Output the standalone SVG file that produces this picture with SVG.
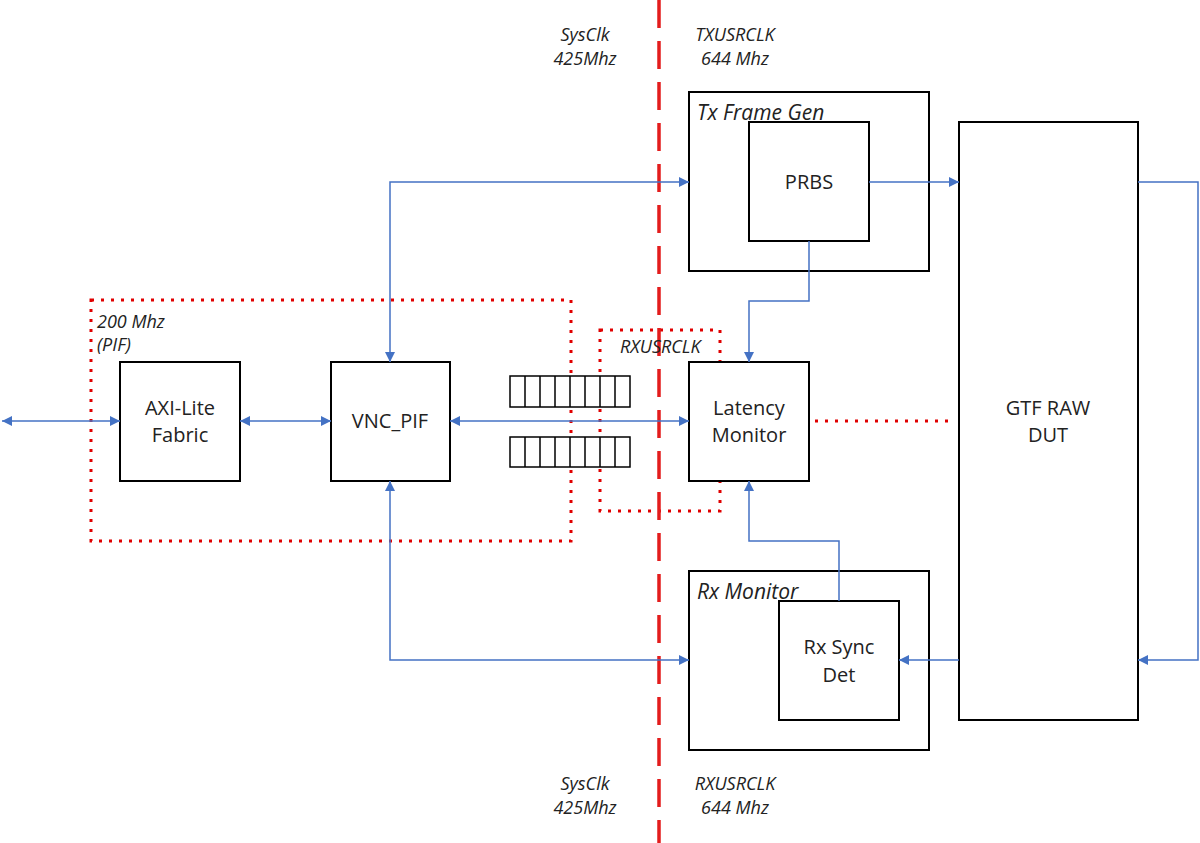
<svg xmlns="http://www.w3.org/2000/svg" width="1200" height="843" viewBox="0 0 1200 843">
<defs>
<marker id="ah" viewBox="0 0 10 10" refX="10" refY="5" markerWidth="10" markerHeight="10" markerUnits="userSpaceOnUse" orient="auto-start-reverse">
<path d="M0,0 L10,5 L0,10 z" fill="#4472C4"/>
</marker>
<style>
.box{fill:#fff;stroke:#000;stroke-width:2}
.cell{fill:#fff;stroke:#000;stroke-width:1.5}
.t{font-family:"Open Sans","Noto Sans",sans-serif;font-size:20px;fill:#222;text-anchor:middle}
.it{font-family:"Open Sans","Noto Sans",sans-serif;font-size:18px;font-style:italic;fill:#222}
.ttl{font-family:"Open Sans","Noto Sans",sans-serif;font-size:21px;font-style:italic;fill:#222}
.c{fill:none;stroke:#4472C4;stroke-width:1.5}
.dot{fill:none;stroke:#E00000;stroke-width:3;stroke-dasharray:3 7}
</style>
</defs>
<rect width="1200" height="843" fill="#fff"/>

<g id="clock-domains">
<rect class="dot" x="91" y="300" width="480" height="241"/>
<rect class="dot" x="600" y="330" width="120" height="181"/>
<line class="dot" x1="815" y1="421" x2="952" y2="421"/>
<line x1="659" y1="0" x2="659" y2="843" stroke="#E31C1C" stroke-width="3.5" stroke-dasharray="28 13"/>
<text class="it" text-anchor="middle" x="585" y="41">SysClk</text>
<text class="it" text-anchor="middle" x="585" y="65">425Mhz</text>
<text class="it" text-anchor="middle" x="735" y="41">TXUSRCLK</text>
<text class="it" text-anchor="middle" x="735" y="65">644 Mhz</text>
<text class="it" text-anchor="middle" x="585" y="790">SysClk</text>
<text class="it" text-anchor="middle" x="585" y="814">425Mhz</text>
<text class="it" text-anchor="middle" x="735" y="790">RXUSRCLK</text>
<text class="it" text-anchor="middle" x="735" y="814">644 Mhz</text>
<text class="it" x="97" y="328">200 Mhz</text>
<text class="it" x="97" y="351">(PIF)</text>
<text class="it" x="620" y="353">RXUSRCLK</text>
</g>

<g id="axi-lite">
<rect class="box" x="120" y="362" width="120" height="119"/>
<text class="t" x="180" y="415">AXI-Lite</text>
<text class="t" x="180" y="442">Fabric</text>
</g>

<g id="vnc-pif">
<rect class="box" x="331" y="362" width="119" height="119"/>
<text class="t" x="390" y="428">VNC_PIF</text>
</g>

<g id="fifo-tx">
<rect class="cell" x="510" y="376" width="120" height="31"/>
<path d="M525,376v31M540,376v31M555,376v31M570,376v31M585,376v31M600,376v31M615,376v31" stroke="#000" stroke-width="1.5"/>
</g>

<g id="fifo-rx">
<rect class="cell" x="510" y="437" width="120" height="30"/>
<path d="M525,437v30M540,437v30M555,437v30M570,437v30M585,437v30M600,437v30M615,437v30" stroke="#000" stroke-width="1.5"/>
</g>

<g id="tx-frame-gen">
<rect class="box" x="689" y="92" width="240" height="179"/>
<text class="ttl" x="697" y="120">Tx Frame Gen</text>
</g>

<g id="prbs">
<rect class="box" x="749" y="122" width="120" height="119"/>
<text class="t" x="809" y="189">PRBS</text>
</g>

<g id="latency-monitor">
<rect class="box" x="689" y="362" width="120" height="119"/>
<text class="t" x="749" y="415">Latency</text>
<text class="t" x="749" y="442">Monitor</text>
</g>

<g id="rx-monitor">
<rect class="box" x="689" y="571" width="240" height="179"/>
<text class="ttl" x="697" y="599">Rx Monitor</text>
</g>

<g id="rx-sync-det">
<rect class="box" x="779" y="601" width="120" height="119"/>
<text class="t" x="839" y="654">Rx Sync</text>
<text class="t" x="839" y="682">Det</text>
</g>

<g id="gtf-raw-dut">
<rect class="box" x="959" y="122" width="179" height="598"/>
<text class="t" x="1048" y="415">GTF RAW</text>
<text class="t" x="1048" y="442">DUT</text>
</g>

<g id="connectors">
<line class="c" x1="2" y1="421" x2="120" y2="421" marker-start="url(#ah)" marker-end="url(#ah)"/>
<line class="c" x1="240" y1="421" x2="331" y2="421" marker-start="url(#ah)" marker-end="url(#ah)"/>
<line class="c" x1="450" y1="421" x2="689" y2="421" marker-start="url(#ah)" marker-end="url(#ah)"/>
<polyline class="c" points="390,362 390,182 689,182" marker-start="url(#ah)" marker-end="url(#ah)"/>
<polyline class="c" points="390,481 390,660 689,660" marker-start="url(#ah)" marker-end="url(#ah)"/>
<line class="c" x1="869" y1="182" x2="959" y2="182" marker-end="url(#ah)"/>
<polyline class="c" points="809,241 809,301 749,301 749,362" marker-end="url(#ah)"/>
<polyline class="c" points="839,601 839,541 749,541 749,481" marker-end="url(#ah)"/>
<polyline class="c" points="1138,182 1198,182 1198,660 1138,660" marker-end="url(#ah)"/>
<line class="c" x1="959" y1="660" x2="899" y2="660" marker-end="url(#ah)"/>
</g>
</svg>
